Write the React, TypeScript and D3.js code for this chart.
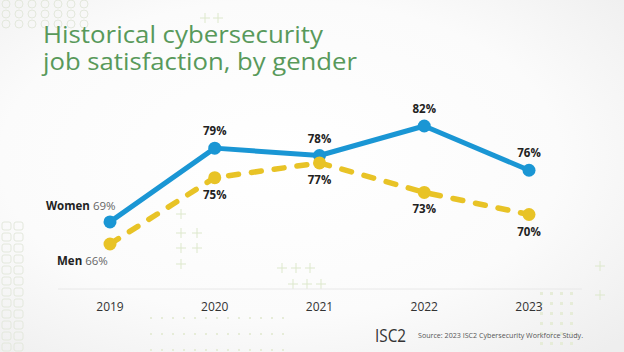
import React from "react";
import * as d3 from "d3";

const years = ["2019", "2020", "2021", "2022", "2023"];
const women = [69, 79, 78, 82, 76];
const men = [66, 75, 77, 73, 70];
const seriesNames = ["Women", "Men"];
const titleLines = ["Historical cybersecurity", "job satisfaction, by gender"];
const sourceText = "Source: 2023 ISC2 Cybersecurity Workforce Study.";
const brand = "ISC2";

const W = 624;
const H = 352;
const BLUE = "#1a96d4";
const YELLOW = "#e8c326";
const GREEN = "#58995a";
const FONT = "'Open Sans', 'Noto Sans', sans-serif";

export default function App() {
  const x = d3.scalePoint<string>().domain(years).range([110, 529]);
  const y = d3.scaleLinear().domain([66, 82]).range([244, 126]);
  const line = d3
    .line<number>()
    .x((_, i) => x(years[i]) as number)
    .y((d) => y(d));

  const plusPositions: [number, number][] = [
    [181, 214], [181, 233], [197, 233], [181, 248], [197, 248], [181, 264],
    [282, 268], [296, 268], [310, 268], [293, 284], [307, 284], [321, 284],
    [205, 18], [218, 18], [600, 266], [600, 295],
  ];

  return (
    <svg
      width={W}
      height={H}
      viewBox={`0 0 ${W} ${H}`}
      style={{ position: "absolute", left: 0, top: 0, fontFamily: FONT }}
    >
      <defs>
        <radialGradient id="bg" cx="0.45" cy="0.45" r="0.75">
          <stop offset="0" stopColor="#ffffff" />
          <stop offset="0.6" stopColor="#fbfbfb" />
          <stop offset="1" stopColor="#eeeeee" />
        </radialGradient>
      </defs>
      <rect x={0} y={0} width={W} height={H} fill="url(#bg)" />

      {/* faint decorations */}
      <g stroke="#e3e8dc" strokeWidth={1} fill="none">
        {d3.range(0, 7).map((c) =>
          d3.range(0, 3).map((r) => (
            <circle key={`c${c}-${r}`} cx={6 + c * 13} cy={4 + r * 10} r={4} />
          ))
        )}
        {d3.range(0, 2).map((c) =>
          d3.range(0, 12).map((r) => (
            <rect key={`s${c}-${r}`} x={2 + c * 12} y={222 + r * 11} width={9} height={8} rx={2} />
          ))
        )}
      </g>
      <g stroke="#dde8cc" strokeWidth={1}>
        {plusPositions.map(([px, py], i) => (
          <g key={`p${i}`}>
            <line x1={px - 5} x2={px + 5} y1={py} y2={py} />
            <line x1={px} x2={px} y1={py - 5} y2={py + 5} />
          </g>
        ))}
      </g>
      <g fill="#e6ecd8">
        {d3.range(0, 4).map((c) =>
          d3.range(0, 6).map((r) => (
            <rect key={`d${c}-${r}`} x={540 + c * 10} y={292 + r * 10} width={3} height={3} />
          ))
        )}
        {d3.range(0, 13).map((c) =>
          d3.range(0, 3).map((r) => (
            <rect key={`e${c}-${r}`} x={150 + c * 11} y={317 + r * 16} width={2} height={2} />
          ))
        )}
      </g>

      {/* title */}
      <text fontSize={24.5} fill={GREEN} fontWeight={400}>
        {titleLines.map((t, i) => (
          <tspan
            key={t}
            x={43}
            y={43 + i * 27}
            textLength={i === 0 ? 280 : 314}
            lengthAdjust="spacingAndGlyphs"
          >
            {t}
          </tspan>
        ))}
      </text>

      {/* baseline axis */}
      <line x1={58} x2={582} y1={289} y2={289} stroke="#e8e8e8" strokeWidth={1} />
      {years.map((yr) => (
        <text
          key={yr}
          x={x(yr)}
          y={311}
          textAnchor="middle"
          fontSize={12}
          fill="#333"
        >
          {yr}
        </text>
      ))}

      {/* women */}
      <path d={line(women) || ""} fill="none" stroke={BLUE} strokeWidth={5} strokeLinejoin="round" />
      {women.map((v, i) => (
        <circle key={`w${i}`} cx={x(years[i])} cy={y(v)} r={6.5} fill={BLUE} />
      ))}

      {/* men */}
      <path
        d={line(men) || ""}
        fill="none"
        stroke={YELLOW}
        strokeWidth={5.5}
        strokeDasharray="10 13"
        strokeLinecap="round"
        strokeLinejoin="round"
      />
      {men.map((v, i) => (
        <circle key={`m${i}`} cx={x(years[i])} cy={y(v)} r={6.5} fill={YELLOW} />
      ))}

      {/* value labels */}
      {women.map((v, i) =>
        i === 0 ? null : (
          <text
            key={`wl${i}`}
            x={x(years[i])}
            y={y(v) - 13}
            textAnchor="middle"
            fontSize={11.5}
            fontWeight={700}
            fill="#222"
          >
            {v}%
          </text>
        )
      )}
      {men.map((v, i) =>
        i === 0 ? null : (
          <text
            key={`ml${i}`}
            x={x(years[i])}
            y={y(v) + 21}
            textAnchor="middle"
            fontSize={11.5}
            fontWeight={700}
            fill="#222"
          >
            {v}%
          </text>
        )
      )}

      {/* series name labels */}
      <text x={46} y={210} fontSize={11.5}>
        <tspan fontWeight={700} fill="#222">{seriesNames[0]}</tspan>
        <tspan fill="#666"> {women[0]}%</tspan>
      </text>
      <text x={57} y={265} fontSize={11.5}>
        <tspan fontWeight={700} fill="#222">{seriesNames[1]}</tspan>
        <tspan fill="#666"> {men[0]}%</tspan>
      </text>

      {/* source */}
      <text x={375} y={342} fontSize={19} fill="#333" fontWeight={400} textLength={31} lengthAdjust="spacingAndGlyphs">
        {brand}
      </text>
      <text x={418} y={338} fontSize={7} fill="#555" textLength={165} lengthAdjust="spacingAndGlyphs">
        {sourceText}
      </text>
    </svg>
  );
}
